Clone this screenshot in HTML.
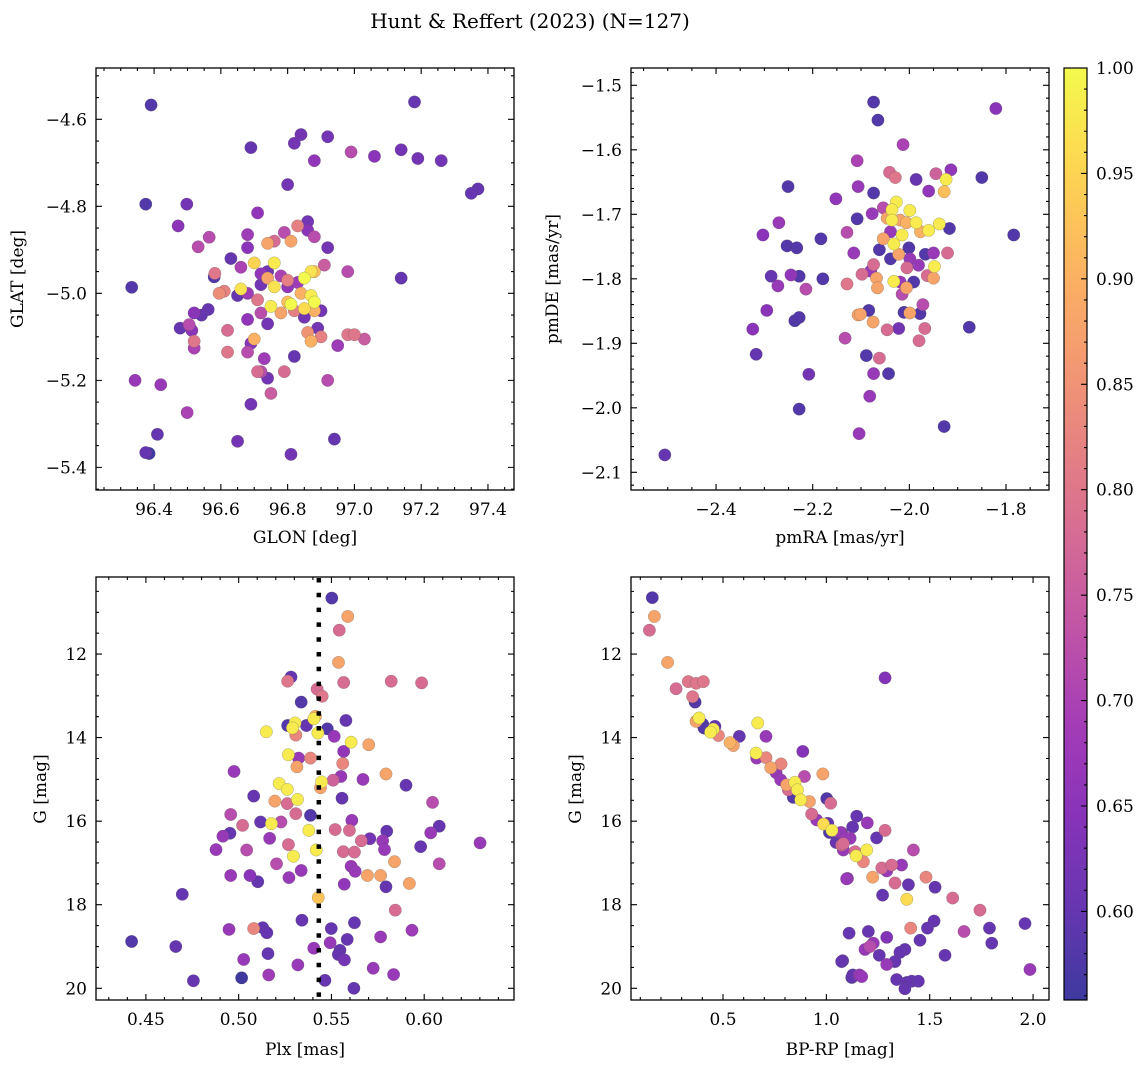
<!DOCTYPE html>
<html><head><meta charset="utf-8">
<style>
html,body{margin:0;padding:0;background:#fff;}
svg{display:block;font-family:"DejaVu Serif","Liberation Serif",serif;}
</style></head>
<body>
<svg id="fig" width="1148" height="1067" viewBox="0 0 1148 1067" xmlns="http://www.w3.org/2000/svg">
<rect width="1148" height="1067" fill="#fff"/>
<text x="530" y="28" font-size="20" text-anchor="middle">Hunt &amp; Reffert (2023) (N=127)</text>
<text x="305" y="543" font-size="17" text-anchor="middle">GLON [deg]</text>
<text x="840" y="543" font-size="17" text-anchor="middle">pmRA [mas/yr]</text>
<text x="305" y="1055" font-size="17" text-anchor="middle">Plx [mas]</text>
<text x="840" y="1055" font-size="17" text-anchor="middle">BP-RP [mag]</text>
<text transform="translate(23,279) rotate(-90)" font-size="17" text-anchor="middle">GLAT [deg]</text>
<text transform="translate(558,279) rotate(-90)" font-size="17" text-anchor="middle">pmDE [mas/yr]</text>
<text transform="translate(46,789) rotate(-90)" font-size="17" text-anchor="middle">G [mag]</text>
<text transform="translate(581,789) rotate(-90)" font-size="17" text-anchor="middle">G [mag]</text>
<g id="layer"></g>
</svg>
<script>
// ---- Panel 1: GLON / GLAT ----
const p1Lon=[96.391,96.375,96.498,96.472,96.565,96.532,96.582,96.58,96.333,96.595,96.562,96.542,96.52,96.505,96.478,96.513,96.52,96.52,96.343,96.42,96.499,96.41,96.375,96.385,
97.18,96.69,96.84,96.82,96.92,96.88,96.99,97.06,97.14,97.19,97.26,97.37,97.35,96.8,
96.71,96.68,96.63,96.68,96.7,96.74,96.76,96.79,96.81,96.83,96.86,96.86,96.88,96.92,96.91,96.98,96.66,96.72,96.74,96.76,96.78,96.74,96.72,96.76,96.8,96.83,96.85,96.88,96.87,96.8,96.66,96.61,96.65,96.68,96.71,96.75,96.8,96.81,96.85,96.87,96.88,96.84,96.82,96.85,96.88,96.9,96.78,96.74,96.72,96.68,96.62,96.62,96.69,96.7,96.68,96.71,96.72,96.73,96.74,96.75,96.79,96.82,96.86,96.87,96.89,96.9,96.95,96.98,97.0,97.03,96.92,96.94,96.81,96.65,96.69,97.14];
const p1Lat=[-4.567,-4.795,-4.795,-4.845,-4.871,-4.893,-4.954,-4.962,-4.986,-5.0,-5.037,-5.05,-5.045,-5.072,-5.08,-5.085,-5.11,-5.126,-5.2,-5.21,-5.274,-5.324,-5.366,-5.368,
-4.56,-4.665,-4.635,-4.655,-4.64,-4.695,-4.675,-4.685,-4.67,-4.69,-4.695,-4.76,-4.77,-4.75,
-4.815,-4.865,-4.92,-4.895,-4.93,-4.885,-4.88,-4.86,-4.88,-4.845,-4.835,-4.855,-4.87,-4.895,-4.935,-4.95,-4.94,-4.955,-4.95,-4.93,-4.96,-4.965,-4.98,-4.985,-4.97,-4.975,-4.965,-4.95,-4.95,-4.985,-4.99,-4.995,-5.005,-5.0,-5.015,-5.03,-5.02,-5.025,-5.035,-5.005,-5.02,-5.0,-5.04,-5.055,-5.04,-5.04,-5.045,-5.07,-5.045,-5.06,-5.085,-5.135,-5.115,-5.105,-5.135,-5.18,-5.18,-5.15,-5.195,-5.23,-5.18,-5.145,-5.09,-5.11,-5.08,-5.1,-5.12,-5.095,-5.095,-5.105,-5.2,-5.335,-5.37,-5.34,-5.255,-4.965];
const p1Prob=[.58,.58,.62,.65,.72,.72,.8,.58,.58,.84,.6,.6,.65,.72,.6,.65,.8,.7,.67,.67,.7,.6,.6,.56,
.6,.6,.62,.62,.62,.66,.72,.65,.62,.62,.62,.6,.6,.62,
.66,.68,.6,.65,.95,.88,.78,.72,.88,.82,.62,.65,.72,.62,.75,.72,.7,.66,.62,.98,.7,.88,.62,.97,.82,.68,1.0,.92,.97,.66,.97,.82,.6,.68,.8,.98,.92,1.0,.96,.98,1.0,.9,.82,.62,.9,.62,.88,.62,.72,.66,.78,.8,.65,.9,.72,.78,.72,.68,.62,.75,.78,.6,.85,.9,.62,.82,.68,.8,.8,.75,.72,.6,.62,.62,.62,.6];

// ---- Panel 2: pmRA / pmDE ----
const p2RA=[-2.506,-2.251,-2.152,-2.108,-2.106,-2.108,-2.27,-2.303,-2.253,-2.233,-2.183,-2.129,-2.115,-2.286,-2.245,-2.228,-2.272,-2.214,-2.179,-2.129,-2.295,-2.237,-2.228,-2.324,-2.317,-2.133,-2.208,-2.228,-2.104,-2.106,
-2.074,-2.065,-1.821,-2.013,-2.041,-2.029,-1.986,-1.945,-1.914,-1.850,-2.074,-1.960,-1.924,-1.928,-2.027,-2.036,-2.054,-1.999,-1.986,-1.938,-1.960,-1.977,-1.917,-2.077,-2.046,-2.036,-2.019,-2.006,-2.039,-2.015,-2.054,-2.032,-2.062,-2.001,-2.039,-2.022,-1.999,-1.967,-1.950,-1.921,-1.981,-2.005,-1.948,-2.074,-2.080,-2.098,-2.068,-2.066,-2.032,-2.019,-1.991,-2.006,-1.963,-1.950,-2.015,-1.972,-2.011,-1.999,-1.978,-2.084,-2.101,-2.075,-2.022,-2.046,-1.968,-1.876,-1.980,-2.089,-2.062,-2.074,-2.043,-2.082,-1.928,-1.784];
const p2DE=[-2.073,-1.657,-1.676,-1.617,-1.657,-1.707,-1.713,-1.732,-1.749,-1.752,-1.738,-1.728,-1.76,-1.796,-1.794,-1.796,-1.811,-1.816,-1.8,-1.808,-1.849,-1.865,-1.86,-1.878,-1.917,-1.892,-1.948,-2.002,-2.04,-1.856,
-1.526,-1.554,-1.536,-1.592,-1.635,-1.643,-1.646,-1.637,-1.631,-1.643,-1.667,-1.664,-1.646,-1.665,-1.681,-1.693,-1.69,-1.694,-1.713,-1.715,-1.725,-1.727,-1.722,-1.699,-1.706,-1.709,-1.709,-1.713,-1.727,-1.732,-1.738,-1.746,-1.755,-1.752,-1.769,-1.762,-1.769,-1.762,-1.76,-1.76,-1.779,-1.783,-1.781,-1.778,-1.788,-1.793,-1.799,-1.814,-1.804,-1.805,-1.805,-1.814,-1.795,-1.799,-1.824,-1.84,-1.852,-1.853,-1.854,-1.849,-1.855,-1.867,-1.877,-1.879,-1.877,-1.875,-1.896,-1.919,-1.923,-1.947,-1.947,-1.982,-2.029,-1.732];
const p2Prob=[.6,.58,.66,.7,.67,.58,.67,.65,.58,.58,.58,.72,.67,.6,.66,.58,.67,.72,.58,.8,.65,.58,.58,.65,.6,.72,.62,.58,.67,.88,
.58,.58,.65,.7,.78,.8,.6,.76,.66,.58,.58,.66,.98,.92,.98,.98,.72,.98,.98,.98,.98,.9,.58,.67,.88,.98,.88,.9,.67,.98,.88,.98,.58,.58,.58,.88,.67,.58,.67,.78,.67,.78,.98,.78,.67,.78,.88,.88,.98,.67,.58,.88,.78,.88,.72,.72,.58,.88,.58,.58,.88,.88,.62,.78,.78,.58,.78,.58,.78,.67,.58,.67,.58,.58];

// ---- Panel 3: Plx / G ----
const p3Plx=[0.5502,0.5588,0.5542,0.5538,0.5282,0.5264,0.5566,0.5822,0.5986,0.5423,0.545,0.5337,0.5264,0.5304,0.529,0.5365,0.5405,0.5414,0.5478,0.5515,0.5427,0.5308,0.5149,0.5578,0.5606,0.5701,0.5566,0.5268,0.5323,0.5387,0.5314,0.5561,0.4975,0.5551,0.5509,0.567,0.5794,0.5902,0.5447,0.5441,0.5218,0.5262,0.5317,0.5195,0.5262,0.5081,0.5557,0.6045,0.4957,0.5308,0.5387,0.561,0.5118,0.5021,0.5177,0.5228,0.5378,0.552,0.5597,0.5798,0.6081,0.6035,0.4915,0.4953,0.5167,0.5707,0.5776,0.5661,0.5981,0.6301,0.4878,0.5043,0.5268,0.5786,0.5418,0.5564,0.5624,0.5295,0.5204,0.5606,0.5628,0.584,0.6081,0.5337,0.4957,0.5061,0.5103,0.5271,0.5694,0.5765,0.592,0.5569,0.5794,0.4696,0.5429,0.5844,0.5341,0.5624,0.5081,0.513,0.5152,0.4948,0.5499,0.5934,0.5585,0.5765,0.4423,0.4661,0.5493,0.5405,0.5546,0.5537,0.557,0.5158,0.5027,0.5319,0.5725,0.5016,0.5162,0.5465,0.5835,0.4756,0.5621];
const p3G=[10.66,11.1,11.43,12.2,12.55,12.65,12.68,12.65,12.69,12.84,13.01,13.15,13.71,13.65,13.77,13.71,13.55,13.49,13.79,13.97,13.89,13.94,13.86,13.59,14.11,14.17,14.33,14.41,14.49,14.49,14.7,14.62,14.81,14.93,15.02,15.0,14.87,15.14,15.06,15.2,15.1,15.24,15.48,15.52,15.58,15.4,15.45,15.55,15.84,15.82,15.86,15.98,16.02,16.1,16.06,16.02,16.22,16.2,16.22,16.24,16.12,16.28,16.36,16.29,16.41,16.42,16.47,16.47,16.61,16.52,16.68,16.69,16.56,16.68,16.69,16.73,16.74,16.84,17.02,17.08,17.2,16.97,17.02,17.18,17.3,17.3,17.45,17.35,17.3,17.3,17.49,17.51,17.57,17.75,17.83,18.13,18.37,18.43,18.57,18.55,18.67,18.59,18.57,18.61,18.83,18.77,18.88,19.0,18.91,19.04,19.09,19.19,19.32,19.17,19.31,19.44,19.52,19.75,19.68,19.81,19.67,19.82,20.0];
const p3Prob=[.58,.88,.78,.88,.6,.8,.78,.78,.78,.78,.8,.58,.58,.98,.98,.6,.98,.9,.58,.67,.98,.83,.98,.6,.98,.88,.66,.98,.67,.83,.88,.83,.67,.67,.76,.67,.88,.6,.98,.88,.98,.98,.98,.88,.78,.6,.6,.72,.72,.78,.58,.67,.6,.78,.98,.72,.98,.78,.78,.6,.6,.67,.67,.6,.67,.62,.67,.78,.6,.67,.67,.72,.78,.67,.98,.78,.78,.98,.72,.67,.67,.88,.72,.67,.67,.65,.6,.67,.88,.88,.88,.66,.6,.6,.93,.78,.6,.6,.83,.6,.6,.67,.6,.68,.6,.67,.58,.6,.67,.67,.6,.6,.62,.6,.67,.67,.67,.56,.68,.6,.67,.6,.6];
const p3PlxRef=[0.5432];

// ---- Panel 4: BP-RP / G ----
const p4Col=[0.158,0.168,0.144,0.232,0.273,0.332,0.37,0.405,0.353,0.365,0.37,0.384,0.402,0.408,0.461,0.453,0.44,0.478,0.579,0.534,0.55,0.668,0.708,0.66,0.663,0.708,0.781,0.731,0.757,0.779,0.886,0.983,0.894,0.848,0.808,0.86,0.816,0.84,0.876,0.918,1.002,1.021,0.929,0.953,0.986,1.007,1.027,1.015,1.07,1.115,1.047,1.074,1.082,1.139,1.144,1.102,1.11,1.079,1.123,1.128,1.16,
1.284,1.147,1.127,1.198,1.074,1.082,1.284,1.243,1.195,1.179,1.224,1.268,1.292,1.316,1.364,1.332,1.389,1.397,1.421,1.482,1.526,1.272,1.098,1.611,1.743,1.961,1.789,1.8,1.666,1.985,1.521,1.489,1.408,1.453,1.574,1.380,1.356,1.292,1.203,1.211,1.187,1.227,1.256,1.292,1.332,1.074,1.127,1.171,1.340,1.389,1.380,1.413,1.445,1.090];
const p4G=[10.65,11.1,11.43,12.2,12.83,12.66,12.7,12.66,13.02,13.15,13.61,13.53,13.68,13.77,13.73,13.8,13.87,13.95,13.97,14.12,14.19,13.65,13.97,14.37,14.49,14.48,14.63,14.72,14.84,15.01,14.33,14.87,14.93,15.07,15.13,15.25,15.25,15.43,15.49,15.53,15.46,15.57,15.83,15.97,16.07,16.05,16.22,16.27,16.27,16.41,16.51,16.57,16.69,16.73,16.83,17.37,18.68,19.34,19.74,19.68,19.68,
12.57,15.88,16.14,16.04,16.28,16.54,16.22,16.4,16.69,16.97,17.34,17.12,17.19,17.05,17.05,17.48,17.87,17.52,16.69,17.34,17.58,17.77,17.38,17.84,18.13,18.45,18.56,18.92,18.64,19.55,18.39,18.56,18.56,18.85,19.21,19.07,19.14,18.78,18.64,19.0,19.07,18.92,19.21,19.43,19.36,19.36,19.72,19.72,19.79,19.86,20.01,19.83,19.83,16.4];
const p4Prob=[.58,.88,.78,.88,.78,.8,.8,.8,.8,.58,.88,.98,.58,.58,.6,.98,.98,.83,.6,.9,.88,.98,.67,.98,.67,.83,.83,.88,.67,.67,.64,.88,.72,.98,.88,.98,.78,.58,.98,.88,.58,.78,.78,.67,.96,.6,.98,.58,.67,.67,.6,.78,.67,.78,.98,.67,.6,.6,.58,.6,.67,
.64,.6,.6,.67,.6,.78,.78,.6,.98,.83,.88,.78,.67,.78,.67,.78,.96,.6,.72,.83,.6,.6,.67,.78,.78,.6,.6,.6,.72,.67,.6,.6,.83,.6,.6,.6,.6,.64,.6,.72,.67,.67,.6,.67,.6,.6,.6,.67,.6,.6,.6,.6,.6,.67];

// ---- Colorbar ----
const cbarTicks=[0.60,0.65,0.70,0.75,0.80,0.85,0.90,0.95,1.00];
const cbarRange=[0.558,1.0];

const NS='http://www.w3.org/2000/svg';
const layer=document.getElementById('layer');
function mk(tag,attrs,parent){const e=document.createElementNS(NS,tag);for(const k in attrs)e.setAttribute(k,attrs[k]);(parent||layer).appendChild(e);return e;}
const plasmaStops=['#0d0887','#41049d','#6a00a8','#8f0da4','#b12a90','#cc4778','#e16462','#f2844b','#fca636','#fcce25','#f0f921'];
function hex(h){return [parseInt(h.substr(1,2),16),parseInt(h.substr(3,2),16),parseInt(h.substr(5,2),16)];}
function plasma(t){t=Math.max(0,Math.min(1,t));const f=t*10;const i=Math.min(9,Math.floor(f));const u=f-i;const a=hex(plasmaStops[i]),b=hex(plasmaStops[i+1]);return a.map((v,k)=>v+(b[k]-v)*u);}
function cmap(v){const t=(v-cbarRange[0])/(cbarRange[1]-cbarRange[0]);const c=plasma(t).map(x=>Math.round(x*0.8+255*0.2));return 'rgb('+c.join(',')+')';}
const minus=s=>s.replace('-','\u2212');

function makeAxes(name,box,xd,yd,xMaj,xMin,yMaj,yMin,xfmt,yfmt){
  const sx=v=>box.x0+(v-xd[0])/(xd[1]-xd[0])*(box.x1-box.x0);
  const sy=v=>box.y0+(v-yd[0])/(yd[1]-yd[0])*(box.y1-box.y0);
  const g=mk('g',{});
  
  
  const lo=Math.min(xd[0],xd[1]),hi=Math.max(xd[0],xd[1]);
  const ylo=Math.min(yd[0],yd[1]),yhi=Math.max(yd[0],yd[1]);
  function ticks(step,lo,hi){const a=[];for(let v=Math.ceil(lo/step-1e-6)*step;v<=hi+1e-9;v+=step)a.push(Math.round(v/step)*step);return a;}
  let d='';
  ticks(xMin,lo,hi).forEach(v=>{const x=sx(v);d+=`M${x},${box.y1}v-3M${x},${box.y0}v3`;});
  xMaj.forEach(v=>{const x=sx(v);d+=`M${x},${box.y1}v-6M${x},${box.y0}v6`;});
  ticks(yMin,ylo,yhi).forEach(v=>{const y=sy(v);d+=`M${box.x0},${y}h3M${box.x1},${y}h-3`;});
  yMaj.forEach(v=>{const y=sy(v);d+=`M${box.x0},${y}h6M${box.x1},${y}h-6`;});
  const tk=mk('path',{d:d,stroke:'#000','stroke-width':1.1,fill:'none'},g);
  
  
  xMaj.forEach(v=>{const t=mk('text',{x:sx(v),y:box.y1+25,'font-size':17,'text-anchor':'middle'},g);t.textContent=xfmt(v);
    
    });
  yMaj.forEach(v=>{const t=mk('text',{x:box.x0-9,y:sy(v)+6,'font-size':17,'text-anchor':'end'},g);t.textContent=yfmt(v);
    
    });
  return {sx,sy,g,box};
}
function frame(ax,name){const f=mk('rect',{x:ax.box.x0,y:ax.box.y0,width:ax.box.x1-ax.box.x0,height:ax.box.y1-ax.box.y0,fill:'none',stroke:'#000','stroke-width':1.3});
  
  }
function scatter(ax,xs,ys,cs,name){
  const idx=xs.map((_,i)=>i).sort((a,b)=>cs[a]-cs[b]);
  const g=mk('g',{});
  
  
  idx.forEach(i=>{const c=mk('circle',{cx:ax.sx(xs[i]),cy:ax.sy(ys[i]),r:6.2,fill:cmap(cs[i]),stroke:'rgba(80,80,80,0.45)','stroke-width':0.5},g);
    
    });
}
const r1=v=>minus(v.toFixed(1));
const ax1=makeAxes('glon-glat',{x0:96,x1:514,y0:68,y1:490},[96.226,97.478],[-4.482,-5.452],[96.4,96.6,96.8,97.0,97.2,97.4],0.05,[-4.6,-4.8,-5.0,-5.2,-5.4],0.05,r1,r1);
scatter(ax1,p1Lon,p1Lat,p1Prob,'glon-glat');frame(ax1,'glon-glat');
const ax2=makeAxes('pm',{x0:631,x1:1049,y0:68,y1:490},[-2.576,-1.711],[-1.4732,-2.1274],[-2.4,-2.2,-2.0,-1.8],0.05,[-1.5,-1.6,-1.7,-1.8,-1.9,-2.0,-2.1],0.02,r1,r1);
scatter(ax2,p2RA,p2DE,p2Prob,'pm');frame(ax2,'pm');
const ax3=makeAxes('plx-g',{x0:96,x1:514,y0:577,y1:1000},[0.4231,0.6484],[10.156,20.28],[0.45,0.50,0.55,0.60],0.01,[12,14,16,18,20],0.5,v=>v.toFixed(2),v=>v.toFixed(0));
scatter(ax3,p3Plx,p3G,p3Prob,'plx-g');
p3PlxRef.forEach(v=>{const l=mk('line',{x1:ax3.sx(v),x2:ax3.sx(v),y1:578,y2:1000,stroke:'#000','stroke-width':4.5,'stroke-dasharray':'4.5 10.3'});
  
  });
frame(ax3,'plx-g');
const ax4=makeAxes('cmd',{x0:631,x1:1049,y0:577,y1:1000},[0.055,2.077],[10.156,20.28],[0.5,1.0,1.5,2.0],0.1,[12,14,16,18,20],0.5,v=>v.toFixed(1),v=>v.toFixed(0));
scatter(ax4,p4Col,p4G,p4Prob,'cmd');frame(ax4,'cmd');

// colorbar
const defs=mk('defs',{});
const grad=mk('linearGradient',{id:'cbg',x1:0,y1:1,x2:0,y2:0},defs);
for(let i=0;i<=20;i++){const v=cbarRange[0]+(cbarRange[1]-cbarRange[0])*i/20;mk('stop',{offset:i/20,'stop-color':cmap(v)},grad);}
const cb={x0:1064,x1:1087,y0:68,y1:1000};
const cy=v=>cb.y1-(v-cbarRange[0])/(cbarRange[1]-cbarRange[0])*(cb.y1-cb.y0);
const cbr=mk('rect',{x:cb.x0,y:cb.y0,width:cb.x1-cb.x0,height:cb.y1-cb.y0,fill:'url(#cbg)',stroke:'#000','stroke-width':1.2});


let cd='';
for(let v=0.56;v<=1.0001;v+=0.01){cd+=`M${cb.x1},${cy(v)}h-3`;}
cbarTicks.forEach(v=>{cd+=`M${cb.x1},${cy(v)}h-6`;});
const cbt=mk('path',{d:cd,stroke:'#000','stroke-width':1.1});


cbarTicks.forEach(v=>{const t=mk('text',{x:1096,y:cy(v)+6,'font-size':17},layer);t.textContent=v.toFixed(2);
  
  });
</script>
</body></html>
